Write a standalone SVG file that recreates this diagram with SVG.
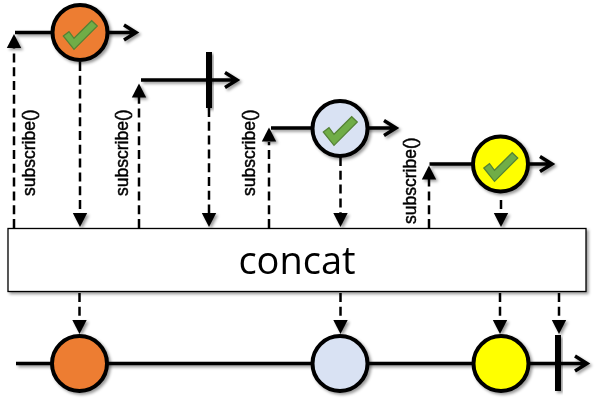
<svg xmlns="http://www.w3.org/2000/svg" width="610" height="403" viewBox="0 0 610 403">
<style>
.line{fill:none;stroke:#000;stroke-width:3.5}
.bar{fill:#000}
.dash{fill:none;stroke:#000;stroke-width:2.5;stroke-dasharray:9 4.800}
.tri{fill:#000}
.dot{stroke:#000;stroke-width:4}
.check{fill:#70ad47;stroke:#548235;stroke-width:1.2}
.sub{font-family:"Liberation Sans",sans-serif;font-size:17.500px;fill:#000;stroke:#000;stroke-width:0.45}
.box{fill:#fff;stroke:#000;stroke-width:1.3}
.title{font-family:"Open Sans","Liberation Sans",sans-serif;font-size:38px;fill:#000;text-anchor:middle}
</style>
<defs>
<filter id="sh" x="-20%" y="-20%" width="150%" height="150%"><feDropShadow dx="2" dy="2" stdDeviation="1.6" flood-color="#000" flood-opacity="0.4"/></filter>
<polygon id="up" class="tri" points="0,-0.500 -7.200,13.500 7.200,13.500"/>
<polygon id="down" class="tri" points="0,0.500 -7.200,-13.500 7.200,-13.500"/>
<polygon id="ck" class="check" points="-16.700,3 -11,-1.300 -6,5.300 11.700,-12.300 17.300,-7 -6,16.300"/>
</defs>
<g id="connectors">
<g filter="url(#sh)">
<path class="line" d="M15 32.500H135M124 25L136 32.500L124 40"/>
<path class="line" d="M141 80H236M225 72.500L237 80L225 87.500"/>
<path class="line" d="M271 128H395M384 120.500L396 128L384 135.500"/>
<path class="line" d="M429.500 164H551M540 156.500L552 164L540 171.500"/>
<path class="line" d="M16 363.500H585M575 356L587 363.500L575 371"/>
</g>
<path class="dash" d="M14 228V48M139 228V97M269 228V142M429 228V179"/>
<path class="dash" d="M80 62V214M209 108V214M340.500 157V214M501 200V214"/>
<path class="dash" d="M79.500 293V322M340.500 293V322M500 293V322M559 293V322"/>
<g filter="url(#sh)">
<use href="#up" x="14" y="34.500"/><use href="#up" x="139" y="84"/><use href="#up" x="269" y="128"/><use href="#up" x="429" y="166"/>
<use href="#down" x="80" y="226.500"/><use href="#down" x="209" y="226.500"/><use href="#down" x="340.500" y="226.500"/><use href="#down" x="501" y="226.500"/>
<use href="#down" x="79.500" y="333.500"/><use href="#down" x="340.500" y="333.500"/><use href="#down" x="500" y="333.500"/><use href="#down" x="559" y="333.500"/>
</g>
</g>
<g id="node-orange-top" filter="url(#sh)"><circle class="dot" cx="80" cy="32.500" r="27.500" fill="#ed7d31"/><use href="#ck" x="80" y="33"/></g>
<g id="node-bar-top" filter="url(#sh)"><rect class="bar" x="206" y="52" width="6" height="56"/></g>
<g id="node-blue-top" filter="url(#sh)"><circle class="dot" cx="340" cy="128.500" r="27.500" fill="#d9e2f3"/><use href="#ck" x="340" y="129"/></g>
<g id="node-yellow-top" filter="url(#sh)"><circle class="dot" cx="500.500" cy="164" r="27.500" fill="#ffff00"/><use href="#ck" x="500.500" y="165"/></g>
<g id="node-concat"><rect class="box" x="8" y="228.500" width="578" height="63" filter="url(#sh)"/><text class="title" x="297" y="274">concat</text></g>
<g id="node-orange-bottom" filter="url(#sh)"><circle class="dot" cx="79.500" cy="363.500" r="27.500" fill="#ed7d31"/></g>
<g id="node-blue-bottom" filter="url(#sh)"><circle class="dot" cx="340" cy="363.500" r="27.500" fill="#d9e2f3"/></g>
<g id="node-yellow-bottom" filter="url(#sh)"><circle class="dot" cx="501" cy="363.500" r="27.500" fill="#ffff00"/></g>
<g id="node-bar-bottom" filter="url(#sh)"><rect class="bar" x="555" y="335" width="6" height="56"/></g>
<g id="labels">
<text class="sub" transform="translate(35 196) rotate(-90)">subscribe()</text>
<text class="sub" transform="translate(128 196) rotate(-90)">subscribe()</text>
<text class="sub" transform="translate(255 196) rotate(-90)">subscribe()</text>
<text class="sub" transform="translate(416 224) rotate(-90)">subscribe()</text>
</g>
</svg>
